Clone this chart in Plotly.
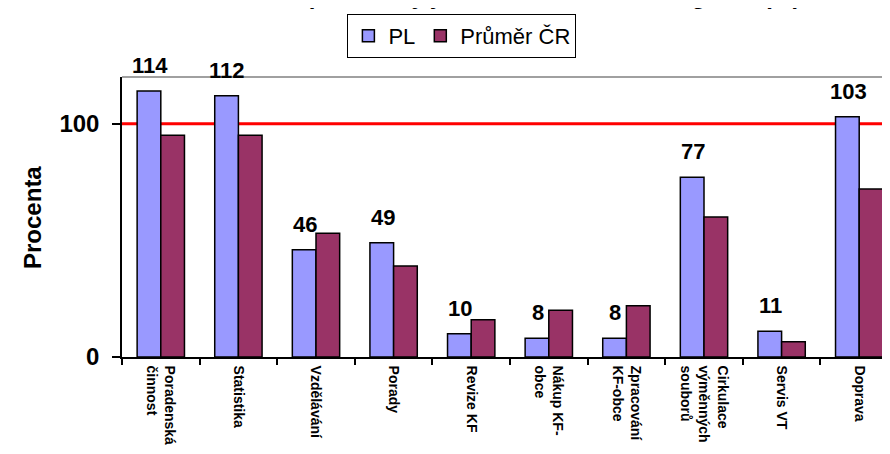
import plotly.graph_objects as go

categories = ["Poradenská<br>činnost", "Statistika", "Vzdělávání", "Porady", "Revize KF",
              "Nákup KF-<br>obce", "Zpracování<br>KF-obce", "Cirkulace<br>výměnných<br>souborů",
              "Servis VT", "Doprava"]
pl_values = [114, 112, 46, 49, 10, 8, 8, 77, 11, 103]
cr_values = [95, 95, 53, 39, 16, 20, 22, 60, 6.5, 72]
series_names = ["PL", "Průměr ČR"]
reference_level = 100
y_ticks = [0, 100]
title_text = "Časová náročnost pro úkony jednotlivé činnosti v regionu (%)"

FONT = "Liberation Sans, Arial, sans-serif"

fig = go.Figure()
fig.add_trace(go.Bar(x=categories, y=pl_values, name=series_names[0],
                     marker=dict(color="#9999FF", line=dict(color="black", width=1.5))))
fig.add_trace(go.Bar(x=categories, y=cr_values, name=series_names[1],
                     marker=dict(color="#993366", line=dict(color="black", width=1.5))))

# reference line at 100 %
fig.add_shape(type="line", xref="paper", x0=0, x1=1, yref="y", y0=reference_level, y1=reference_level,
              line=dict(color="#FF0000", width=3), layer="below")
# top border of plot area
fig.add_shape(type="line", xref="paper", x0=0, x1=1, yref="paper", y0=1, y1=1,
              line=dict(color="#808080", width=1.5))

# value labels for PL
for c, v in zip(categories, pl_values):
    fig.add_annotation(x=c, y=v, text=f"<b>{v}</b>", showarrow=False, xref="x", yref="y",
                       yanchor="bottom", xanchor="center", xshift=-11, yshift=11,
                       font=dict(family=FONT, size=22, color="black"))

# y axis title
fig.add_annotation(text="<b>Procenta</b>", xref="paper", yref="paper", x=-0.116, y=0.5,
                   textangle=-90, showarrow=False, xanchor="center", yanchor="middle",
                   font=dict(family=FONT, size=24, color="black"))

# chart title (mostly cut off at top in the reference)
fig.add_annotation(text=f"<b>{title_text}</b>", xref="paper", yref="paper", x=0.42, y=1.237,
                   showarrow=False, xanchor="center", yanchor="bottom",
                   font=dict(family=FONT, size=24, color="black"))

fig.update_layout(
    width=890, height=454,
    margin=dict(l=114, r=0, t=69, b=105, autoexpand=False),
    paper_bgcolor="white", plot_bgcolor="white",
    barmode="group", bargap=0.39, bargroupgap=0,
    font=dict(family=FONT, color="black"),
    showlegend=True,
    legend=dict(orientation="h", x=0.438, xanchor="center", y=1.225, yanchor="top",
                bordercolor="black", borderwidth=1, bgcolor="white",
                font=dict(family=FONT, size=22, color="black"),
                itemwidth=30, tracegroupgap=0),
    xaxis=dict(range=[-0.5, 9.5], tickangle=90, showline=True, linecolor="black", linewidth=1.5,
               ticks="outside", tickson="boundaries", ticklen=6, tickcolor="black", tickwidth=1.5,
               ticklabelstandoff=4,
               tickfont=dict(family=FONT, size=14, color="black", weight="bold"),
               showgrid=False, zeroline=False, automargin=False),
    yaxis=dict(range=[0, 120], tickvals=y_ticks, showline=True, linecolor="black", linewidth=1.5,
               ticks="outside", ticklen=8, tickcolor="black", tickwidth=1.5,
               ticklabelstandoff=8,
               tickfont=dict(family=FONT, size=24, color="black", weight="bold"),
               showgrid=False, zeroline=False, automargin=False),
)

fig.write_html("out.html")
